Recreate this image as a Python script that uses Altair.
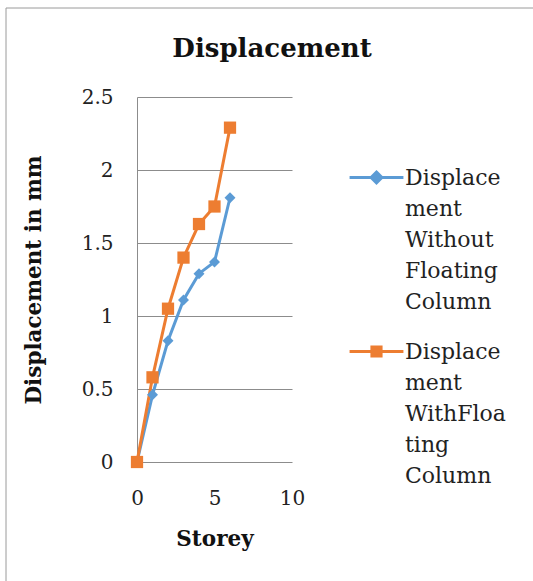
import json
import altair as alt
import pandas as pd

# Storey numbers and lateral displacement (mm) for the two building models
storeys = [0, 1, 2, 3, 4, 5, 6]
without_floating = [0.0, 0.46, 0.83, 1.11, 1.29, 1.37, 1.81]
with_floating = [0.0, 0.58, 1.05, 1.40, 1.63, 1.75, 2.29]

series_names = [
    "Displacement Without Floating Column",
    "Displacement WithFloating Column",
]
series_colors = ["#5B9BD5", "#ED7D31"]
series_shapes = ["diamond", "square"]

# Wrapped legend text, one list of lines per series
legend_lines = [
    ["Displace", "ment", "Without", "Floating", "Column"],
    ["Displace", "ment", "WithFloa", "ting", "Column"],
]

# Legend glyphs: a short line with the series marker in its middle,
# dropped a little so it sits beside the first line of the label
legend_paths = [
    "M-1,0.37L1,0.37M0,0.17L0.2,0.37L0,0.57L-0.2,0.37Z",
    "M-1,0.37L1,0.37M-0.17,0.2L0.17,0.2L0.17,0.54L-0.17,0.54Z",
]

rows = []
for name, values in zip(series_names, [without_floating, with_floating]):
    for s, v in zip(storeys, values):
        rows.append({"Storey": s, "Displacement": v, "Series": name})
df = pd.DataFrame(rows)

FONT = "DejaVu Serif"

label_expr = " : ".join(
    f"datum.label == {json.dumps(n)} ? {json.dumps(lines)}"
    for n, lines in zip(series_names[:-1], legend_lines[:-1])
) + f" : {json.dumps(legend_lines[-1])}"

x_enc = alt.X(
    "Storey:Q",
    scale=alt.Scale(domain=[0, 10], nice=False),
    axis=alt.Axis(
        values=[0, 5, 10], title="Storey", grid=False, ticks=False, domain=False,
        labelFlush=False, labelPadding=26, titlePadding=20,
    ),
)
y_enc = alt.Y(
    "Displacement:Q",
    scale=alt.Scale(domain=[0, 2.5], nice=False),
    axis=alt.Axis(
        values=[0, 0.5, 1, 1.5, 2, 2.5], title="Displacement in mm", format="~g",
        ticks=False, domain=True, domainColor="#8c8c8c", gridColor="#8c8c8c",
        labelFlush=False, labelPadding=24, titlePadding=36,
    ),
)
color_scale = alt.Scale(domain=series_names, range=series_colors)

base = alt.Chart(df)

lines = base.mark_line(strokeWidth=3).encode(
    x=x_enc, y=y_enc,
    color=alt.Color("Series:N", scale=color_scale),
)

point_layers = []
for name, shape, size in zip(series_names, series_shapes, [120, 150]):
    point_layers.append(
        base.transform_filter(alt.datum.Series == name)
        .mark_point(filled=True, shape=shape, size=size, opacity=1)
        .encode(
            x="Storey:Q", y="Displacement:Q",
            color=alt.Color("Series:N", scale=color_scale),
        )
    )

legend_layer = base.mark_point(filled=True, opacity=0).encode(
    x="Storey:Q", y="Displacement:Q",
    color=alt.Color(
        "Series:N", scale=color_scale,
        legend=alt.Legend(
            title=None, orient="none", legendX=211, legendY=42,
            symbolSize=2900, symbolStrokeWidth=3, symbolOpacity=1,
            labelFont=FONT, labelFontSize=22, labelColor="#222",
            labelBaseline="top", labelOffset=0, labelLimit=200,
            labelExpr=label_expr, rowPadding=-3,
        ),
    ),
    stroke=alt.Stroke("Series:N", scale=color_scale),
    shape=alt.Shape("Series:N", scale=alt.Scale(domain=series_names, range=legend_paths)),
)

one_row = alt.Data(values=[{"t": "Displacement"}])

# Chart title, drawn as a text mark so the frame lines do not push it upward
title_mark = alt.Chart(one_row).mark_text(
    font=FONT, fontSize=26, fontWeight="bold", color="#111",
    align="center", baseline="alphabetic",
).encode(x=alt.value(135), y=alt.value(-40), text="t:N")

border = alt.Chart(one_row).mark_rule(color="#9a9a9a", strokeWidth=1)
border_top = border.encode(x=alt.value(-131), x2=alt.value(420), y=alt.value(-89))
border_left = border.encode(x=alt.value(-131), y=alt.value(-89), y2=alt.value(500))

chart = (
    alt.layer(border_top, border_left, title_mark, lines, *point_layers, legend_layer)
    .properties(
        width=155, height=365,
        autosize=alt.AutoSizeParams(type="none"),
        padding={"left": 137, "top": 97, "right": 241, "bottom": 119},
    )
    .configure(style={"guide-label": {"lineHeight": 31}})
    .configure_view(stroke=None)
    .configure_axis(
        labelFont=FONT, labelFontSize=20, labelColor="#222",
        titleFont=FONT, titleFontSize=21.5, titleFontWeight="bold", titleColor="#111",
    )
)

chart.save("out.html", embed_options={"renderer": "svg", "actions": False})
